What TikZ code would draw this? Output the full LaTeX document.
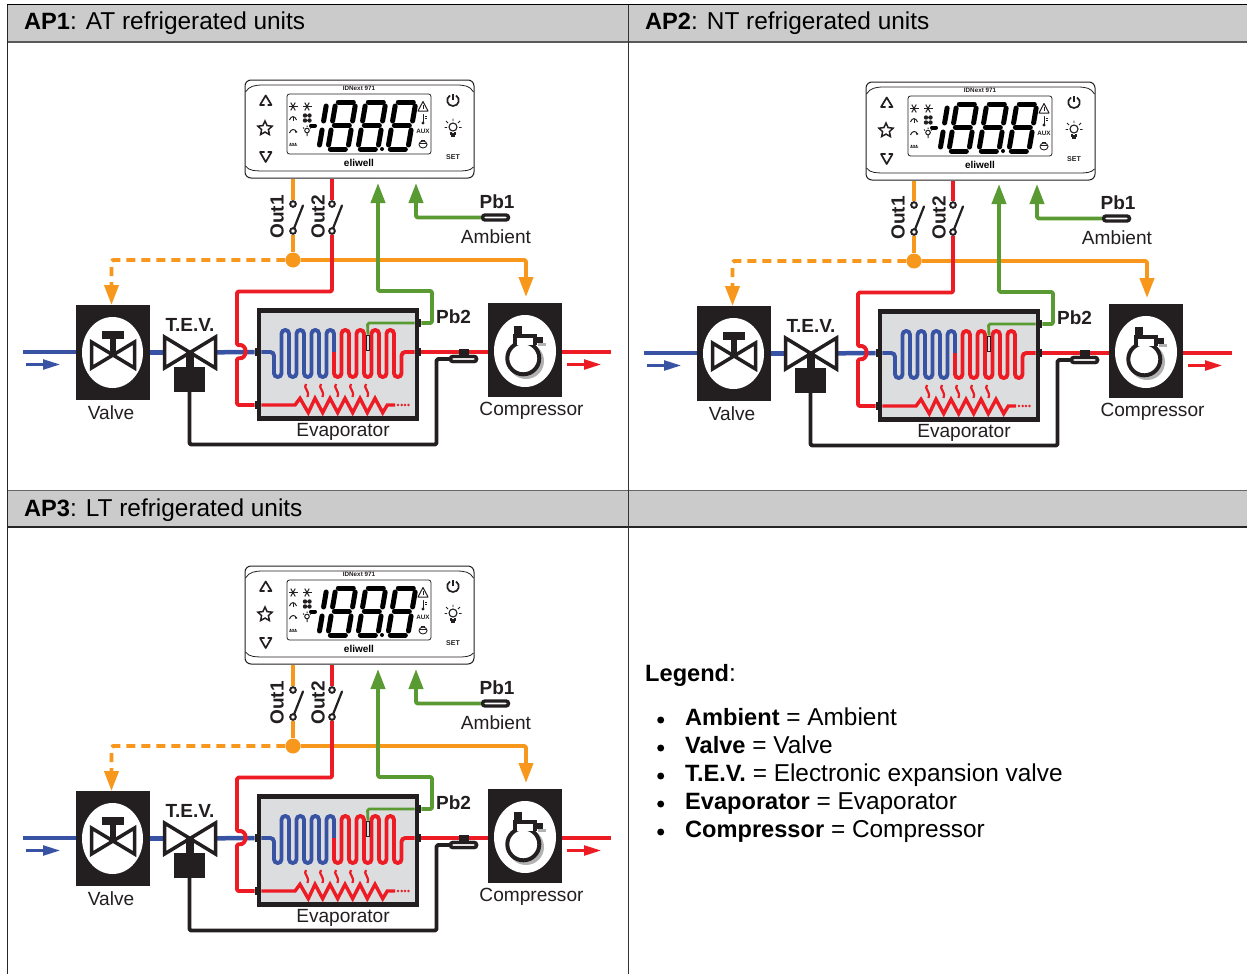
\documentclass[tikz,border=0pt]{standalone}
\usepackage{fontspec}
\setmainfont{Liberation Sans}
\usetikzlibrary{arrows.meta,shapes.geometric,shapes.misc,calc}
\definecolor{ink}{HTML}{231F20}
\definecolor{org}{HTML}{F7981D}
\definecolor{rd}{HTML}{ED1C24}
\definecolor{blu}{HTML}{3953A4}
\definecolor{grn}{HTML}{5A9A32}
\definecolor{hdr}{HTML}{CBCBCB}
\definecolor{evap}{HTML}{DCDDDF}
\newcommand{\Bd}[1]{{\fontsize{23.6}{26}\selectfont\bfseries #1}}
\tikzset{
  wire/.style={line width=3.9pt,line join=round,rounded corners=1.5pt},
  wo/.style={wire,draw=org},
  wr/.style={wire,draw=rd},
  wb/.style={wire,draw=blu},
  wg/.style={wire,draw=grn},
  wk/.style={wire,draw=ink},
  bighead/.style={-{Triangle[length=20pt,width=14pt]}},
  lbl/.style={font=\fontsize{19.1}{21}\selectfont,text=ink,inner sep=0pt},
  blbl/.style={font=\fontsize{19}{21}\selectfont\bfseries,text=ink,inner sep=0pt},
  hd/.style={font=\fontsize{24.4}{26}\selectfont,text=black,inner sep=0pt,anchor=base west},
  lg/.style={font=\fontsize{24.4}{26}\selectfont,text=black,inner sep=0pt,anchor=base west},
  bul/.style={circle,fill=black,minimum size=7pt,inner sep=0pt},
  jnode/.style={fill=ink,minimum width=6.5pt,minimum height=8pt,inner sep=0pt},
  swc/.style={circle,draw=ink,fill=white,line width=1.8pt,minimum size=5.5pt,inner sep=0pt},
  pill/.style={rounded rectangle,draw=ink,fill=white,line width=3.4pt,minimum width=26pt,minimum height=5pt,inner sep=0pt},
  blackbox/.style={fill=ink,inner sep=0pt},
  hole/.style={ellipse,fill=white,inner sep=0pt},
  bow/.style={draw=ink,fill=white,line width=3.5pt,line join=miter},
  sg/.style={line width=5pt,draw=black,line cap=round},
  ic/.style={draw=ink,line width=1pt},
  key/.style={draw=ink,line width=1.7pt,line join=round},
  tiny/.style={font=\fontsize{6.3}{7}\selectfont\bfseries,text=ink,inner sep=0pt},
  arrowthin/.style={line width=2.4pt,-{Triangle[length=17pt,width=10pt]}},
}
% one seven-segment digit, foot at x=#1
\newcommand{\Eight}[1]{%
  \begin{scope}[shift={(#1,151)},xslant=0.17]
    \draw[sg] (4,-49) -- (19,-49);
    \draw[sg] (4,-25.5) -- (19,-25.5);
    \draw[sg] (4,-2) -- (19,-2);
    \draw[sg] (1.5,-45) -- (1.5,-30);
    \draw[sg] (1.5,-21) -- (1.5,-6);
    \draw[sg] (21.5,-45) -- (21.5,-30);
    \draw[sg] (21.5,-21) -- (21.5,-6);
  \end{scope}}
\newcommand{\Snow}[2]{%
  \draw[ic] (#1,#2) +(0:4.5) -- +(180:4.5);
  \draw[ic] (#1,#2) +(60:4.5) -- +(240:4.5);
  \draw[ic] (#1,#2) +(120:4.5) -- +(300:4.5);}
\newcommand{\Wave}[1]{%
  \draw[rd,line width=2.2pt] (#1,384) .. controls (#1-3.5,388) and (#1+4,390) .. (#1+1.5,397);}
% controller panel
\newcommand{\Panel}[1]{%
  \node[draw=ink,fill=white,line width=1pt,rounded corners=6pt,minimum width=229pt,minimum height=98pt,inner sep=0pt] (#1ctl) at (359.5,129) {};
  \draw[ink,line width=.8pt] (245.5,92) .. controls (249,86) and (255,85) .. (263,85) -- (456,85) .. controls (465,85) and (470,86) .. (473.5,92);
  \draw[ink,line width=.8pt] (245.5,166) .. controls (249,171) and (255,171) .. (267,171) -- (456,171) .. controls (465,171) and (470,171) .. (473.5,167);
  \node[tiny] (#1idn) at (359,88) {IDNext 971};
  \node[draw=ink,fill=white,line width=.8pt,rounded corners=2.5pt,minimum width=144pt,minimum height=60pt,inner sep=0pt] (#1lcd) at (359,124) {};
  \draw[line width=4pt,draw=black,line cap=round] (311,125.5) -- (315,125.5);
  \begin{scope}[shift={(317,151)},xslant=0.17]
    \draw[sg] (1.5,-45) -- (1.5,-30);
    \draw[sg] (1.5,-21) -- (1.5,-6);
  \end{scope}
  \Eight{326}\Eight{356}\Eight{386}
  \fill[black] (382,149) circle[radius=2];
  \Snow{293}{106.5}\Snow{307}{106.5}
  \draw[ic] (289.5,120) .. controls (291,115.5) and (295,115.5) .. (296.5,120);
  \draw[ic] (293,116.5) -- (293,121);
  \draw[ic] (289.5,133) .. controls (291,128.5) and (295,128.5) .. (296.5,132);
  \fill[ink] (297.5,132) -- (295,130.5) -- (295.5,133) -- cycle;
  \fill[ink] (305,115.5) circle[radius=2.2] (309.5,115.5) circle[radius=2.2] (305,120.5) circle[radius=2.2] (309.5,120.5) circle[radius=2.2];
  \draw[ic] (307,130.5) circle[radius=2.3];
  \draw[ic] (307,133) -- (307,136) (303,127.5) -- (304,128.5) (311,127.5) -- (310,128.5) (307,125.5) -- (307,126.8);
  \draw[ic] (289,145) -- (297,145) (290,143) -- (291,144) (292.5,143) -- (293.5,144) (295,143) -- (296,144);
  \draw[draw=ink,line width=1pt,line join=round] (423,101.5) -- (428,111) -- (418,111) -- cycle;
  \draw[ink,line width=.7pt] (423,104.5) -- (423,108.5);
  \draw[draw=ink,line width=1pt,line cap=round] (423,114.5) -- (423,122);
  \fill[ink] (423,123) circle[radius=1.7];
  \draw[ic] (425,116) -- (427,116) (425,118.5) -- (427,118.5);
  \node[tiny] (#1aux) at (423,131) {AUX};
  \draw[draw=ink,line width=.9pt] (423,144.5) ellipse[x radius=4,y radius=3.5];
  \draw[draw=ink,line width=.9pt] (419,143) -- (427,143) (421,140.5) -- (425,140.5);
  \draw[key] (264.5,105) -- (260,105) -- (265.7,95.5) -- (271.5,105) -- (267.5,105);
  \draw[key] (264.5,152) -- (260,152) -- (265.7,162) -- (271.5,152) -- (267.5,152);
  \node[star,star points=5,star point ratio=2.1,draw=ink,line width=1.5pt,minimum size=15pt,inner sep=0pt] (#1star) at (265,128.5) {};
  \draw[key] (450,95.5) .. controls (445,98.5) and (447,106) .. (453,106) .. controls (459,106) and (461,98.5) .. (456,95.5);
  \draw[key] (453,94) -- (453,100);
  \draw[draw=ink,line width=1.1pt] (453,127) circle[radius=4];
  \draw[draw=ink,line width=1.1pt] (451,131.5) -- (451,134) -- (455,134) -- (455,131.5);
  \draw[draw=ink,line width=1.6pt] (451,136) -- (455,136);
  \draw[draw=ink,line width=.9pt] (453,118.5) -- (453,121) (446,121) -- (448,123) (460,121) -- (458,123) (444.5,127.5) -- (447,127.5) (461.5,127.5) -- (459,127.5);
  \node[tiny,font=\fontsize{7}{8}\selectfont\bfseries] (#1set) at (453,157) {SET};
  \node[inner sep=0pt,text=black,font=\fontsize{10}{11}\selectfont\bfseries] (#1logo) at (359,163) {eliwell};
}
\newcommand{\Diagram}[4]{%
\begin{scope}[shift={(#2,#3)}]
  % ---- controller
  \begin{scope}[shift={(0,#4)}]\Panel{#1}\end{scope}
  % ---- anchors
  \node[swc] (#1s1t) at (293,204) {};
  \node[swc] (#1s1b) at (293,231) {};
  \node[swc] (#1s2t) at (332,204) {};
  \node[swc] (#1s2b) at (332,231) {};
  \node[circle,fill=org,minimum size=15pt,inner sep=0pt] (#1j) at (293,260) {};
  \node[draw=ink,fill=evap,line width=4.2pt,minimum width=158pt,minimum height=108pt,inner sep=0pt] (#1evap) at (338,364.5) {};
  \node[jnode] (#1q1) at (258,352) {};
  \node[jnode] (#1q2) at (258,405) {};
  \node[jnode] (#1q3) at (418,323) {};
  \node[jnode] (#1q4) at (418,352) {};
  \node[blackbox,minimum width=74pt,minimum height=95pt] (#1valve) at (113,352.5) {};
  \node[blackbox,minimum width=74pt,minimum height=94pt] (#1comp) at (525,350) {};
  \node[blackbox,minimum width=31pt,minimum height=25pt] (#1act) at (189.5,379.5) {};
  \coordinate (#1tev) at (190,352.5);
  \node[pill] (#1pb2c) at (463.5,359) {};
  \node[draw=ink,fill=evap,line width=.8pt,minimum width=3.5pt,minimum height=15pt,inner sep=0pt] (#1prb) at (368,342.5) {};
  \node[pill] (#1pb1c) at (495.5,217.5) {};
  % ---- free ends
  \coordinate (#1ain) at (23,352);
  \coordinate (#1aout) at (611,352);
  \coordinate (#1tipv) at (111.5,305);
  \coordinate (#1tipc) at (526,297);
  \coordinate (#1tipg) at (378,183);
  \coordinate (#1tipp) at (416,183);
  % ---- wires
  \draw[wb,line width=4.5pt] (#1ain) -- (#1valve.west |- #1ain);
  \draw[wb,line width=4.5pt] (#1valve.east |- #1tev) -- (#1tev);
  \draw[wb,line width=4.5pt] (#1tev) -- (#1q1);
  \draw[wr,line width=4.5pt] (#1q4) -- (#1comp.west |- #1q4);
  \draw[wr,line width=4.5pt] (#1comp.east |- #1q4) -- (#1aout);
  \draw[wo] (#1ctl.south -| #1s1t) -- (#1s1t);
  \draw[wr] (#1ctl.south -| #1s2t) -- (#1s2t);
  \draw[wo] (#1s1b) -- (#1j);
  \draw[wo,bighead] (#1j) -- (#1j -| #1tipc) -- (#1tipc);
  \draw[wo,bighead,dash pattern=on 9pt off 6pt] (#1j) -- (#1j -| #1tipv) -- (#1tipv);
  \draw[wr,rounded corners=1.5pt] (#1s2b) -- (332,291.5) -- (237,291.5) -- (237,345.5) .. controls (248,343) and (248,360) .. (237,358) -- (237,405) -- (#1q2);
  \draw[wg,bighead] (#1q3) -- (432,323) -- (432,291) -- (378,291) -- (#1tipg);
  \draw[wg,line width=2.8pt] (#1prb.north) -- (367.5,323) -- (#1q3);
  \draw[wg,bighead] (#1pb1c.west) -- (416,217.5) -- (#1tipp);
  \draw[wk] (#1act.south) -- (189.5,444.5) -- (436.5,444.5) -- (436.5,359) -- (#1pb2c.west);
  % ---- switches
  \draw[draw=ink,line width=2.2pt,line cap=round] (#1s1b) -- (303,205.5);
  \draw[draw=ink,line width=2.2pt,line cap=round] (#1s2b) -- (342,205.5);
  \node[swc] at (#1s1t) {};\node[swc] at (#1s1b) {};\node[swc] at (#1s2t) {};\node[swc] at (#1s2b) {};
  % ---- coil
  \draw[blu,line width=3.9pt,rounded corners=3.7pt] (#1q1) -- (274,352) -- (274,377) -- (281.5,377) -- (281.5,330) -- (289,330) -- (289,377) -- (296.5,377) -- (296.5,330) -- (304,330) -- (304,377) -- (311.5,377) -- (311.5,330) -- (319,330) -- (319,377) -- (326.5,377) -- (326.5,330) -- (334,330) -- (334,352);
  \draw[rd,line width=3.9pt,rounded corners=3.7pt] (334,352) -- (334,377) -- (341.5,377) -- (341.5,330) -- (349,330) -- (349,377) -- (356.5,377) -- (356.5,330) -- (364,330) -- (364,377) -- (371.5,377) -- (371.5,330) -- (379,330) -- (379,377) -- (386.5,377) -- (386.5,330) -- (394,330) -- (394,377) -- (401.5,377) -- (401.5,352) -- (#1q4);
  \draw[rd,line width=3.4pt,line join=miter] (#1q2) -- (295,405) -- (300,398.3) -- (308.3,412.7) -- (315,398.3) -- (322.7,412.7) -- (330,398.3) -- (337.7,412.7) -- (345,398.3) -- (352.7,412.7) -- (360,398.3) -- (367.3,412.7) -- (375,398.3) -- (382.7,412.7) -- (387.3,405) -- (395,405);
  \foreach \d in {398,401.7,405,408.5} {\fill[rd] (\d,405) circle[radius=1.4];}
  \Wave{306}\Wave{321}\Wave{336}\Wave{351}\Wave{366}
  \node[draw=ink,fill=evap,line width=.8pt,minimum width=3.5pt,minimum height=15pt,inner sep=0pt] at (#1prb) {};
  \node[jnode] at (#1q1) {};\node[jnode] at (#1q2) {};\node[jnode] at (#1q3) {};\node[jnode] at (#1q4) {};
  % ---- suction probe
  \node[blackbox,minimum width=10pt,minimum height=6.5pt] (#1clamp) at (464,352) {};
  \node[pill] at (#1pb2c) {};
  % ---- flow arrows
  \coordinate (#1fa) at (26,364.5);\coordinate (#1fb) at (60,364.5);
  \coordinate (#1fc) at (567,364.5);\coordinate (#1fd) at (601,364.5);
  \draw[blu,arrowthin] (#1fa) -- (#1fb);
  \draw[rd,arrowthin] (#1fc) -- (#1fd);
  % ---- valve
  \node[hole,minimum width=61pt,minimum height=71pt] (#1vh) at (112.5,352.5) {};
  \draw[bow] (91.5,342) -- (134.5,368) -- (134.5,342) -- (91.5,368) -- cycle;
  \fill[ink] (109.5,335) rectangle (116,355);
  \fill[ink] (102,331) rectangle (124,339);
  % ---- expansion valve
  \draw[bow] (164.5,337) -- (215.5,368) -- (215.5,337) -- (164.5,368) -- cycle;
  \fill[ink] (186,353) rectangle (194,368);
  % ---- compressor
  \node[hole,minimum width=62pt,minimum height=72pt] (#1ch) at (525,351) {};
  \draw[draw=black!30,line width=4pt] (526,361) circle[radius=16];
  \draw[draw=ink,fill=white,line width=4pt] (523.3,358.3) circle[radius=16];
  \fill[black!30] (538,343) rectangle (546,345.5);
  \fill[ink] (514.3,326) rectangle (521.7,336);
  \fill[ink] (513.3,334) rectangle (536.7,345);
  \fill[ink] (535,337.3) rectangle (543.3,343.3);
  \fill[white] (517.3,338.3) rectangle (533.3,345);
  % ---- labels
  \node[lbl] (#1lv) at (111,412.5) {Valve};
  \node[lbl] (#1lc) at (531.5,411) {Compressor};
  \node[lbl] (#1le) at (343,432) {Evaporator};
  \node[lbl] (#1la) at (496,236.5) {Ambient};
  \node[blbl] (#1lt) at (190,325) {T.E.V.};
  \node[blbl] (#1lp2) at (453.5,317) {Pb2};
  \node[blbl] (#1lp1) at (497,201.5) {Pb1};
  \node[blbl,rotate=90] (#1lo1) at (277,217) {Out1};
  \node[blbl,rotate=90] (#1lo2) at (318,217) {Out2};
\end{scope}}
\begin{document}
\begin{tikzpicture}[x=1pt,y=-1pt]
  \useasboundingbox (0,0) rectangle (1247,974);
  \fill[white] (0,0) rectangle (1247,974);
  % table
  \fill[hdr] (7,5) rectangle (1247,42);
  \fill[hdr] (7,490) rectangle (1247,527);
  \draw[draw=black,line width=1pt] (7,5) -- (1247,5);
  \draw[draw=black!65,line width=1.6pt] (7,42) -- (1247,42);
  \draw[draw=black!60,line width=1.6pt] (7,490.5) -- (1247,490.5);
  \draw[draw=black!85,line width=1.2pt] (7,527) -- (1247,527);
  \draw[draw=black!85,line width=1.2pt] (7.5,5) -- (7.5,974);
  \draw[draw=black!80,line width=1.2pt] (628.5,5) -- (628.5,974);
  \node[hd] (t1) at (24,30) {\Bd{AP1}: AT refrigerated units};
  \node[hd] (t2) at (645,30) {\Bd{AP2}: NT refrigerated units};
  \node[hd] (t3) at (24,516) {\Bd{AP3}: LT refrigerated units};
  \Diagram{a}{0}{0}{0}
  \Diagram{b}{621}{1}{1}
  \Diagram{c}{0}{486}{0}
  % legend
  \node[lg] (l0) at (645,681) {\Bd{Legend}:};
  \node[bul] (b1) at (660.7,720) {};
  \node[bul] (b2) at (660.7,748) {};
  \node[bul] (b3) at (660.7,776) {};
  \node[bul] (b4) at (660.7,804) {};
  \node[bul] (b5) at (660.7,832) {};
  \node[lg] (l1) at (685,725) {\Bd{Ambient} = Ambient};
  \node[lg] (l2) at (685,753) {\Bd{Valve} = Valve};
  \node[lg] (l3) at (685,781) {\Bd{T.E.V.} = Electronic expansion valve};
  \node[lg] (l4) at (685,809) {\Bd{Evaporator} = Evaporator};
  \node[lg] (l5) at (685,837) {\Bd{Compressor} = Compressor};
\end{tikzpicture}
\end{document}
